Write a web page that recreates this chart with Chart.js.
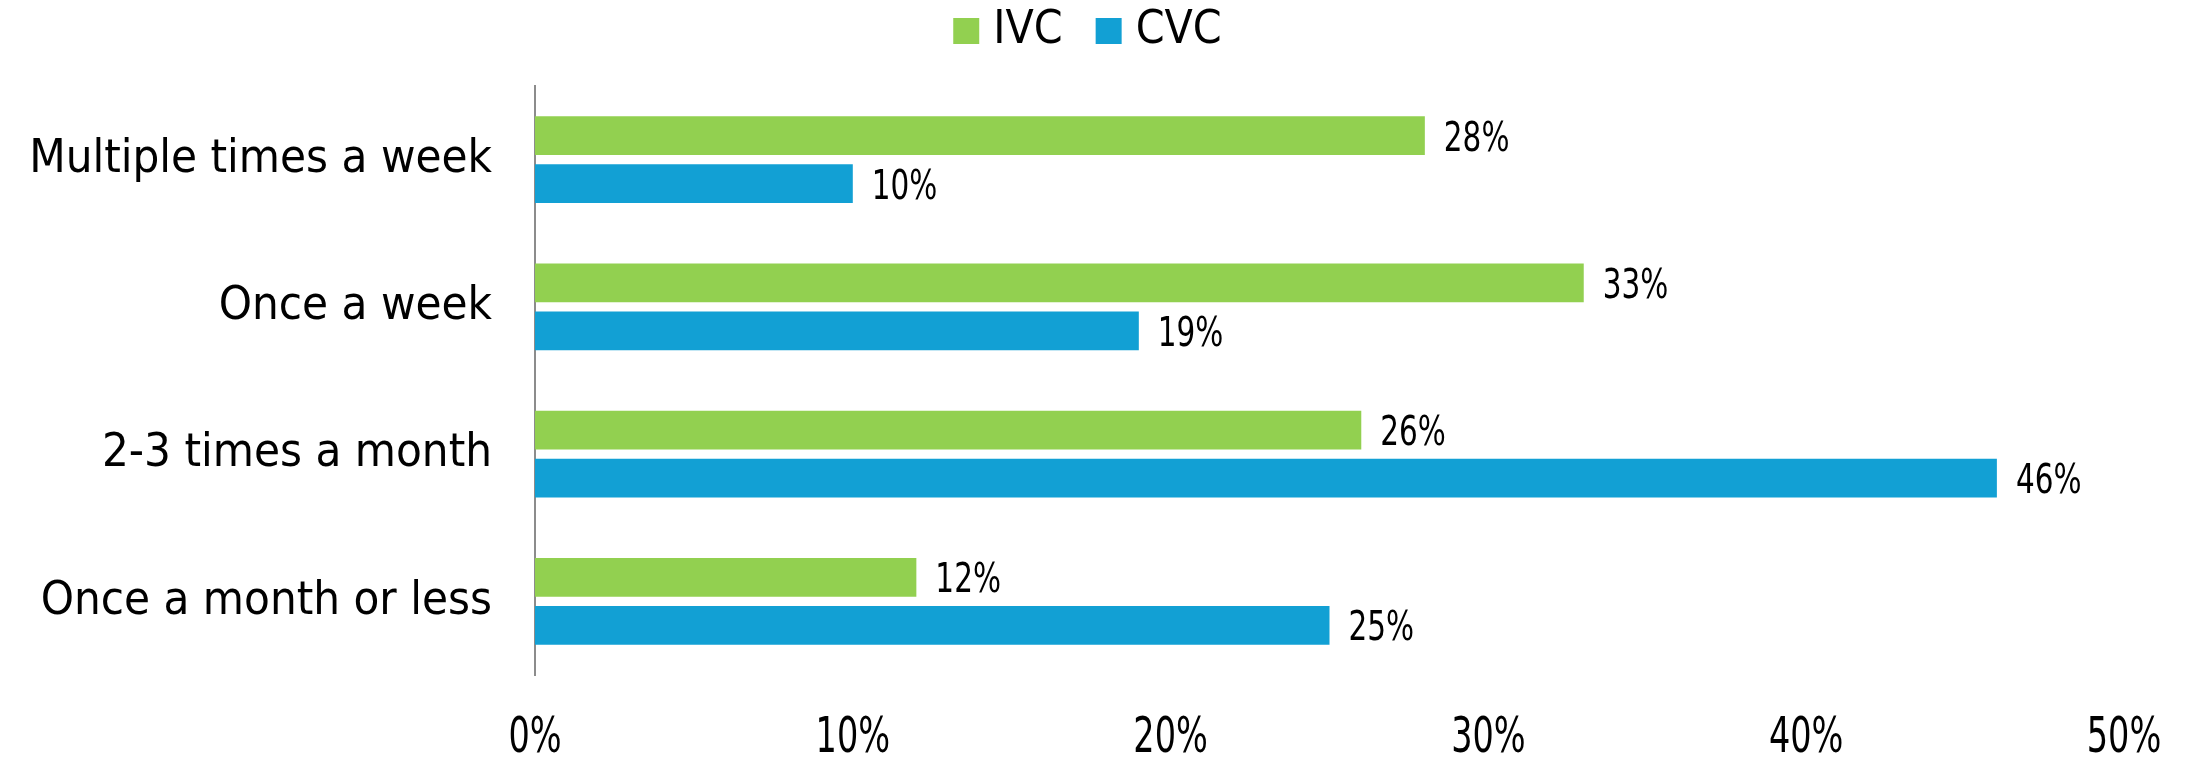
<!DOCTYPE html>
<html>
<head>
<meta charset="utf-8">
<script src="https://cdn.jsdelivr.net/npm/chart.js@4/dist/chart.umd.min.js"></script>
<style>
	html, body { margin: 0; padding: 0; background: #ffffff; }
	#wrap { width: 2190px; height: 757px; }
</style>
</head>
<body>
<div id="wrap"><canvas id="freqChart" width="2190" height="757"></canvas></div>
<script>
const categories = ["Multiple times a week", "Once a week", "2-3 times a month", "Once a month or less"];
const ivcValues = [28, 33, 26, 12];
const cvcValues = [10, 19, 46, 25];
const xTicks = [0, 10, 20, 30, 40, 50];

const FONT = "'DejaVu Sans Condensed', 'DejaVu Sans', sans-serif";

// condensed text helper, the original uses a narrow font
function narrowText(ctx, text, x, y, align, squeeze) {
	const w = ctx.measureText(text).width * squeeze;
	let left = x;
	if (align === "center") left = x - w / 2;
	ctx.save();
	ctx.translate(left, y);
	ctx.scale(squeeze, 1);
	ctx.textAlign = "left";
	ctx.fillText(text, 0, 0);
	ctx.restore();
}

// value labels at bar ends + x tick labels
const narrowLabels = {
	id: "narrowLabels",
	afterDraw(chart) {
		const ctx = chart.ctx;
		const xScale = chart.scales.x;
		const area = chart.chartArea;
		ctx.save();
		ctx.fillStyle = "#000000";
		ctx.textBaseline = "alphabetic";

		ctx.font = "41px " + FONT;
		chart.data.datasets.forEach((ds, i) => {
			chart.getDatasetMeta(i).data.forEach((bar, j) => {
				narrowText(ctx, ds.data[j] + "%", bar.x + 19, bar.y + 15, "left", 0.8);
			});
		});

		ctx.font = "49px " + FONT;
		xTicks.forEach((v) => {
			narrowText(ctx, v + "%", xScale.getPixelForValue(v), area.bottom + 77, "center", 0.76);
		});
		ctx.restore();
	},
};

// legend sits higher and a bit right of the canvas centre in the original
const legendNudge = {
	id: "legendNudge",
	beforeInit(chart) {
		const legend = chart.legend;
		const fit = legend.fit;
		legend.fit = function () {
			fit.call(this);
			this.height -= 12;
		};
		const draw = legend.draw;
		legend.draw = function () {
			const ctx = this.ctx;
			ctx.save();
			ctx.translate(30, -34);
			draw.call(this);
			ctx.restore();
		};
	},
};

new Chart(document.getElementById("freqChart").getContext("2d"), {
	type: "bar",
	data: {
		labels: categories,
		datasets: [
			{
				label: "IVC",
				data: ivcValues,
				backgroundColor: "#92D050",
				categoryPercentage: 0.652,
				barPercentage: 0.81,
			},
			{
				label: "CVC",
				data: cvcValues,
				backgroundColor: "#12A0D4",
				categoryPercentage: 0.652,
				barPercentage: 0.81,
			},
		],
	},
	options: {
		indexAxis: "y",
		responsive: false,
		animation: false,
		layout: { padding: { top: 0, right: 66, bottom: 0, left: 0 } },
		plugins: {
			legend: {
				position: "top",
				labels: {
					color: "#000000",
					font: { family: FONT, size: 46 },
					usePointStyle: true,
					pointStyle: "rect",
					boxWidth: 8,
					boxHeight: 26,
					padding: 42,
				},
			},
			tooltip: { enabled: false },
		},
		scales: {
			x: {
				min: 0,
				max: 50,
				afterFit: (scale) => {
					scale.height = 82;
				},
				grid: { display: false, drawTicks: false },
				border: { display: false },
				ticks: { display: false, stepSize: 10 },
			},
			y: {
				afterFit: (scale) => {
					scale.width = 535;
				},
				grid: { display: false, drawTicks: false },
				border: { display: true, color: "#8c8c8c", width: 2 },
				ticks: {
					color: "#000000",
					font: { family: FONT, size: 47 },
					padding: 43,
				},
			},
		},
	},
	plugins: [legendNudge, narrowLabels],
});
</script>
</body>
</html>
